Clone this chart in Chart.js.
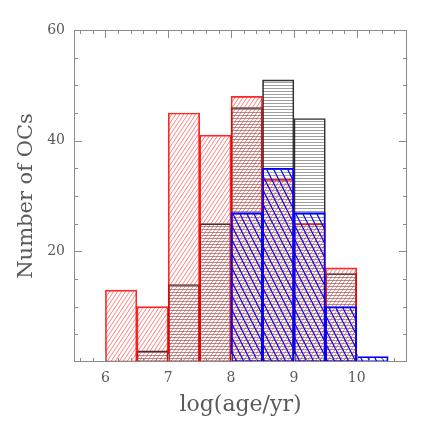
<!DOCTYPE html>
<html>
<head>
<meta charset="utf-8">
<script src="https://cdn.jsdelivr.net/npm/chart.js@4"></script>
<style>
  body { margin: 0; background: #fff; }
</style>
</head>
<body>
<canvas id="histograma" width="436" height="436"></canvas>
<script>
// centros dos bins de log(idade), largura 0.5
let centrosBins = [6.25, 6.75, 7.25, 7.75, 8.25, 8.75, 9.25, 9.75, 10.25];
let contagemVermelho = [13, 10, 45, 41, 48, 33, 25, 17, 0];
let contagemPreto = [0, 2, 14, 25, 46, 51, 44, 16, 0];
let contagemAzul = [0, 0, 0, 0, 27, 35, 27, 10, 1];
let ticksX = [6, 7, 8, 9, 10];
let ticksY = [20, 40, 60];

const corEixo = '#8a8a8a';
const corTexto = '#5a5a5a';

function padraoHachura(largura, altura, cor, espessura, tipo) {
    let tile = document.createElement('canvas');
    tile.width = largura;
    tile.height = altura;
    let c = tile.getContext('2d');
    c.strokeStyle = cor;
    c.lineWidth = espessura;
    c.beginPath();
    if (tipo === 'h') {
        c.moveTo(0, altura / 2);
        c.lineTo(largura, altura / 2);
    } else if (tipo === '/') {
        for (let k = -1; k <= 1; k++) {
            c.moveTo(k * largura, altura);
            c.lineTo((k + 1) * largura, 0);
        }
    } else {
        for (let k = -1; k <= 1; k++) {
            c.moveTo(k * largura, 0);
            c.lineTo((k + 1) * largura, altura);
        }
    }
    c.stroke();
    return c.createPattern(tile, 'repeat');
}

function montarPontos(valores) {
    return centrosBins.map((x, i) => ({ x: x, y: valores[i] ? valores[i] : null }));
}

// moldura e marcas para dentro nos quatro lados
const molduraPlugin = {
    id: 'moldura',
    afterDatasetsDraw(chart) {
        const ctx = chart.ctx;
        const a = chart.chartArea;
        const sx = chart.scales.x;
        const sy = chart.scales.y;
        ctx.save();
        ctx.strokeStyle = corEixo;
        ctx.lineWidth = 1;
        ctx.strokeRect(a.left + 0.5, a.top + 0.5, a.right - a.left - 1, a.bottom - a.top - 1);
        ctx.beginPath();
        for (let i = 28; i <= 53; i++) {
            let v = i / 5;
            let px = Math.round(sx.getPixelForValue(v)) + 0.5;
            let tam = (i % 5 === 0) ? 8 : 4;
            ctx.moveTo(px, a.bottom);
            ctx.lineTo(px, a.bottom - tam);
            ctx.moveTo(px, a.top);
            ctx.lineTo(px, a.top + tam);
        }
        for (let v = 5; v < 60; v += 5) {
            let py = Math.round(sy.getPixelForValue(v)) + 0.5;
            let tam = (v % 20 === 0) ? 8 : 4;
            ctx.moveTo(a.left, py);
            ctx.lineTo(a.left + tam, py);
            ctx.moveTo(a.right, py);
            ctx.lineTo(a.right - tam, py);
        }
        ctx.stroke();
        ctx.restore();
    }
};

const ctx = document.getElementById('histograma').getContext('2d');
new Chart(ctx, {
    type: 'bar',
    data: {
        datasets: [
            {
                label: 'azul',
                data: montarPontos(contagemAzul),
                backgroundColor: padraoHachura(7, 14, '#0000ff', 1.2, '\\'),
                borderColor: '#0000ff',
                borderWidth: 1.2
            },
            {
                label: 'vermelho',
                data: montarPontos(contagemVermelho),
                backgroundColor: padraoHachura(4, 6, 'rgba(255,0,0,0.5)', 1, '/'),
                borderColor: 'rgba(255,0,0,0.85)',
                borderWidth: 1
            },
            {
                label: 'preto',
                data: montarPontos(contagemPreto),
                backgroundColor: padraoHachura(4, 3, 'rgba(0,0,0,0.38)', 1, 'h'),
                borderColor: '#333',
                borderWidth: 1
            }
        ]
    },
    options: {
        responsive: false,
        animation: false,
        layout: { padding: { top: 30, right: 29, left: 0, bottom: 0 } },
        plugins: {
            legend: { display: false },
            tooltip: { enabled: false }
        },
        datasets: {
            bar: { grouped: false, barPercentage: 1, categoryPercentage: 1, borderSkipped: false }
        },
        scales: {
            x: {
                type: 'linear',
                min: 5.5,
                max: 10.8,
                offset: false,
                grid: { display: false, drawTicks: false },
                border: { display: false },
                afterBuildTicks: (s) => { s.ticks = ticksX.map(v => ({ value: v })); },
                afterFit: (s) => { s.height = 74; s.paddingLeft = 0; s.paddingRight = 0; },
                ticks: {
                    maxRotation: 0,
                    padding: 8,
                    color: corTexto,
                    font: { family: 'DejaVu Serif', size: 14 }
                },
                title: {
                    display: true,
                    text: 'log(age/yr)',
                    color: corTexto,
                    font: { family: 'DejaVu Serif', size: 22 },
                    padding: { bottom: 18 }
                }
            },
            y: {
                min: 0,
                max: 60,
                grid: { display: false, drawTicks: false },
                border: { display: false },
                afterBuildTicks: (s) => { s.ticks = ticksY.map(v => ({ value: v })); },
                afterFit: (s) => { s.width = 74; s.paddingTop = 0; s.paddingBottom = 0; },
                ticks: {
                    padding: 9,
                    color: corTexto,
                    font: { family: 'DejaVu Serif', size: 14 }
                },
                title: {
                    display: true,
                    text: 'Number of OCs',
                    color: corTexto,
                    font: { family: 'DejaVu Serif', size: 21 },
                    padding: { top: 14 }
                }
            }
        }
    },
    plugins: [molduraPlugin]
});
</script>
</body>
</html>
